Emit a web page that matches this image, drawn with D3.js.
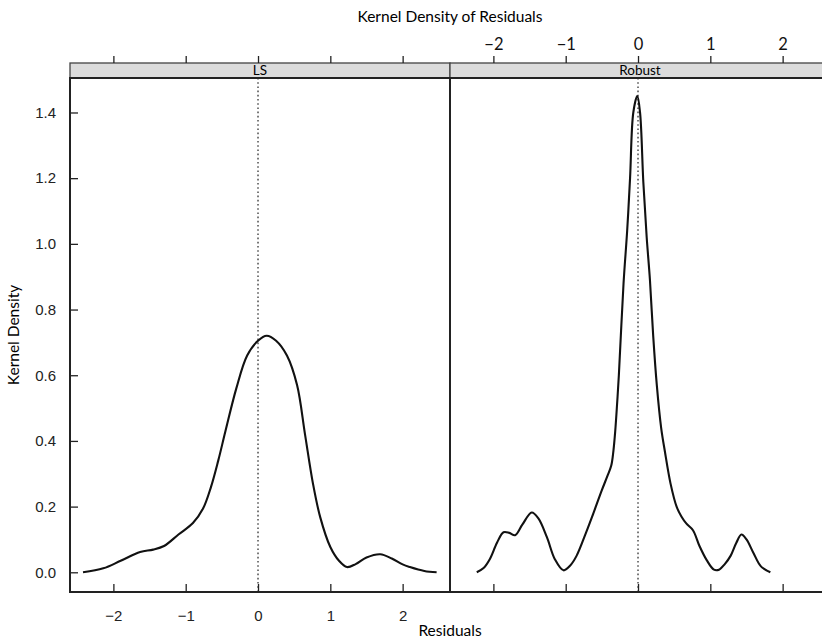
<!DOCTYPE html>
<html>
<head>
<meta charset="utf-8">
<script src="https://cdn.jsdelivr.net/npm/d3@7"></script>
<style>
  body { margin: 0; background: #fff; }
  svg { display: block; }
</style>
</head>
<body>
<svg id="chart"></svg>
<script>
const WIDTH = 822;
const HEIGHT = 641;

// panels and their strip labels
const panels = ["LS", "Robust"];

// kernel density curves (residual, density)
const lsX = [-2.42, -2.14, -1.9, -1.63, -1.45, -1.3, -1.1, -0.9, -0.76, -0.65, -0.55, -0.45, -0.3, -0.15, 0.0, 0.12, 0.25, 0.4, 0.54, 0.65, 0.76, 0.86, 1.0, 1.12, 1.23, 1.35, 1.5, 1.69, 1.85, 2.0, 2.1, 2.3, 2.47];
const lsY = [0.0, 0.012, 0.035, 0.062, 0.069, 0.08, 0.115, 0.15, 0.194, 0.26, 0.34, 0.43, 0.56, 0.66, 0.705, 0.72, 0.705, 0.66, 0.57, 0.42, 0.27, 0.168, 0.077, 0.035, 0.016, 0.025, 0.045, 0.055, 0.042, 0.024, 0.016, 0.004, 0.0];

const robustX = [-2.23, -2.14, -2.05, -1.95, -1.86, -1.78, -1.7, -1.6, -1.47, -1.38, -1.26, -1.15, -1.03, -0.94, -0.85, -0.72, -0.62, -0.5, -0.42, -0.37, -0.34, -0.315, -0.29, -0.265, -0.2, -0.15, -0.11, -0.065, -0.01, 0.028, 0.073, 0.12, 0.165, 0.21, 0.26, 0.32, 0.37, 0.45, 0.535, 0.6, 0.67, 0.76, 0.85, 0.95, 1.05, 1.12, 1.2, 1.28, 1.36, 1.43, 1.5, 1.6, 1.7, 1.83];
const robustY = [0.0, 0.012, 0.04, 0.09, 0.122, 0.12, 0.113, 0.145, 0.182, 0.165, 0.107, 0.04, 0.006, 0.02, 0.05, 0.12, 0.178, 0.25, 0.295, 0.325, 0.37, 0.43, 0.51, 0.6, 0.88, 1.04, 1.2, 1.4, 1.45, 1.4, 1.19, 1.02, 0.89, 0.72, 0.57, 0.44, 0.37, 0.27, 0.199, 0.17, 0.148, 0.128, 0.08, 0.037, 0.008, 0.008, 0.025, 0.05, 0.09, 0.115, 0.1, 0.057, 0.018, 0.0];

const curves = [
  d3.zip(lsX, lsY),
  d3.zip(robustX, robustY),
];

const xTicks = [-2, -1, 0, 1, 2];
const yTicks = [0.0, 0.2, 0.4, 0.6, 0.8, 1.0, 1.2, 1.4];

const LEFT = 70;
const PANEL_W = 380;
const STRIP_TOP = 63;
const PANEL_TOP = 78;
const PANEL_BOTTOM = 592;
const TICK = 8;

const svg = d3.select("#chart").attr("width", WIDTH).attr("height", HEIGHT);

const yScale = d3.scaleLinear().domain([-0.06, 1.505]).range([PANEL_BOTTOM, PANEL_TOP]);

const minus = (d) => d3.format("d")(d).replace("-", "\u2212");

panels.forEach((name, i) => {
  const x0 = LEFT + i * PANEL_W;
  const xScale = d3.scaleLinear().domain([-2.6, 2.655]).range([x0, x0 + PANEL_W]);
  const g = svg.append("g");

  // strip
  g.append("rect")
    .attr("x", x0).attr("y", STRIP_TOP)
    .attr("width", PANEL_W).attr("height", PANEL_TOP - STRIP_TOP)
    .attr("fill", "#dcdcdc").attr("stroke", "#444").attr("stroke-width", 1.3);
  g.append("text")
    .attr("x", x0 + PANEL_W / 2).attr("y", PANEL_TOP - 3)
    .attr("text-anchor", "middle")
    .style("font-family", "Lato, 'Liberation Sans', sans-serif")
    .style("font-size", "13.5px")
    .text(name);

  // reference line at zero
  g.append("line")
    .attr("x1", xScale(0)).attr("x2", xScale(0))
    .attr("y1", PANEL_TOP).attr("y2", PANEL_BOTTOM)
    .attr("stroke", "#333").attr("stroke-width", 1.3)
    .attr("stroke-dasharray", "1.6,2.6");

  // density curve
  g.append("path")
    .datum(curves[i])
    .attr("fill", "none")
    .attr("stroke", "#111")
    .attr("stroke-width", 2.1)
    .attr("d", d3.line().x((d) => xScale(d[0])).y((d) => yScale(d[1])).curve(d3.curveCatmullRom.alpha(0.5)));

  // bottom axis: ticks point inward, labels only under the first panel
  const bottom = g.append("g")
    .attr("transform", "translate(0," + PANEL_BOTTOM + ")")
    .call(d3.axisBottom(xScale).tickValues(xTicks).tickSize(-TICK).tickPadding(TICK + 10).tickFormat(i === 0 ? minus : ""));
  bottom.select(".domain").remove();
  bottom.selectAll(".tick line").attr("stroke", "#222").attr("stroke-width", 1.3);
  bottom.selectAll("text")
    .style("font-family", "'Liberation Sans', Arial, sans-serif")
    .style("font-size", "15px").attr("fill", "#222");

  // top axis: outward ticks, labels only over the second panel
  const top = g.append("g")
    .attr("transform", "translate(0," + STRIP_TOP + ")")
    .call(d3.axisTop(xScale).tickValues(xTicks).tickSize(7).tickPadding(6).tickFormat(i === 1 ? minus : ""));
  top.select(".domain").remove();
  top.selectAll(".tick line").attr("stroke", "#222").attr("stroke-width", 1.3);
  top.selectAll("text")
    .style("font-family", "Lato, 'Liberation Sans', sans-serif")
    .style("font-size", "16.5px").attr("fill", "#111");

  // y ticks point inward
  if (i === 0) {
    const left = g.append("g")
      .attr("transform", "translate(" + x0 + ",0)")
      .call(d3.axisLeft(yScale).tickValues(yTicks).tickSize(-TICK).tickPadding(TICK + 6).tickFormat(d3.format(".1f")));
    left.select(".domain").remove();
    left.selectAll(".tick line").attr("stroke", "#222").attr("stroke-width", 1.3);
    left.selectAll("text")
      .style("font-family", "'Liberation Sans', Arial, sans-serif")
      .style("font-size", "15px").attr("fill", "#222");
  } else {
    const right = g.append("g")
      .attr("transform", "translate(" + (x0 + PANEL_W) + ",0)")
      .call(d3.axisRight(yScale).tickValues(yTicks).tickSize(-TICK).tickFormat(""));
    right.select(".domain").remove();
    right.selectAll(".tick line").attr("stroke", "#222").attr("stroke-width", 1.3);
  }

  // panel border
  g.append("rect")
    .attr("x", x0).attr("y", PANEL_TOP)
    .attr("width", PANEL_W).attr("height", PANEL_BOTTOM - PANEL_TOP)
    .attr("fill", "none").attr("stroke", "#222").attr("stroke-width", 2);
});

// titles
svg.append("text")
  .attr("x", LEFT + PANEL_W).attr("y", 22)
  .attr("text-anchor", "middle")
  .style("font-family", "Lato, 'Liberation Sans', sans-serif")
  .style("font-size", "15.5px")
  .text("Kernel Density of Residuals");

svg.append("text")
  .attr("x", LEFT + PANEL_W).attr("y", 636)
  .attr("text-anchor", "middle")
  .style("font-family", "Lato, 'Liberation Sans', sans-serif")
  .style("font-size", "15.5px")
  .text("Residuals");

svg.append("text")
  .attr("transform", "translate(19," + (PANEL_TOP + PANEL_BOTTOM) / 2 + ") rotate(-90)")
  .attr("text-anchor", "middle")
  .style("font-family", "Lato, 'Liberation Sans', sans-serif")
  .style("font-size", "15.5px")
  .text("Kernel Density");
</script>
</body>
</html>
